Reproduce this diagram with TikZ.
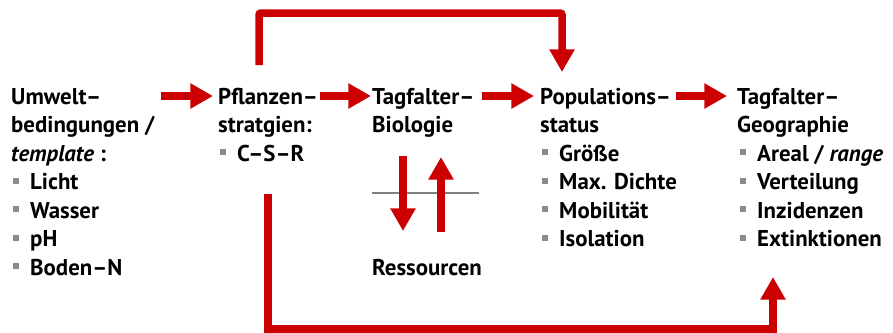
\documentclass[tikz,border=0pt]{standalone}
\usepackage{fontspec}
\setmainfont{PT Sans}
\usetikzlibrary{arrows.meta}

\definecolor{flowred}{HTML}{CC0000}
\definecolor{bulletgray}{HTML}{8C8C8C}
\definecolor{rulegray}{HTML}{808080}

% small grey square in front of list entries
\newcommand{\itm}{{\color{bulletgray}\rule[5pt]{5.1pt}{5.1pt}}\hspace{9.4pt}}

\tikzset{
  txt/.style={anchor=north west, inner sep=0pt, align=left,
    font=\fontsize{19.5}{24.3}\selectfont\bfseries},
  flow/.style={draw=flowred, line width=0.25cm,
    -{Triangle[length=0.68cm,width=0.72cm]}},
}

\begin{document}
\begin{tikzpicture}[x=0.03cm, y=-0.03cm]
\useasboundingbox (0,0) rectangle (893,332);

% heads
\node[txt] (umwelt) at (11,84) {\strut Umwelt--\\bedingungen /\\\textit{template} :};
\node[txt] (pflanzen) at (218,84) {\strut Pflanzen--\\stratgien:};
\node[txt] (biologie) at (372,84) {\strut Tagfalter--\\Biologie};
\node[txt] (popstatus) at (540,84) {\strut Populations--\\status};
\node[txt] (geographie) at (737,84) {\strut Tagfalter--\\Geographie};

% lists
\node[txt] (umweltlist) at (13,169.5) {\strut\itm Licht\\\itm Wasser\\\itm pH\\\itm Boden--N};
\node[txt] (csr) at (220,141) {\strut\itm C--S--R};
\node[txt] (poplist) at (542,141) {\strut\itm Größe\\\itm Max. Dichte\\\itm Mobilität\\\itm Isolation};
\node[txt] (geolist) at (740,141) {\strut\itm Areal / \textit{range}\\\itm Verteilung\\\itm Inzidenzen\\\itm Extinktionen};
\node[txt] (ressourcen) at (372,255) {\strut Ressourcen};

% main chain
\coordinate (row) at (0,96);
\draw[flow, shorten <=0.18cm, shorten >=0.15cm] (umwelt.east |- row) -- (pflanzen.west |- row);
\draw[flow, shorten <=0.06cm, shorten >=0.03cm] (pflanzen.east |- row) -- (biologie.west |- row);
\draw[flow, shorten <=0.21cm, shorten >=0.18cm] (biologie.east |- row) -- (popstatus.west |- row);
\draw[flow, shorten <=0.15cm, shorten >=0.30cm] (popstatus.east |- row) -- (geographie.west |- row);

% resources exchange
\draw[rulegray, line width=0.04cm] ([shift={(0,109)}]biologie.north west) -- ([shift={(107,109)}]biologie.north west);
\draw[flow] ([shift={(31,72)}]biologie.north west) -- ([shift={(31,147)}]biologie.north west);
\draw[flow] ([shift={(69,148)}]biologie.north west) -- ([shift={(69,73)}]biologie.north west);

% bypass links
\draw[flow, line width=0.225cm, rounded corners=0.06cm]
  ([shift={(41,-19)}]pflanzen.north west) |- ([shift={(22,-71)}]popstatus.north west)
  -- ([shift={(22,-12)}]popstatus.north west);
\draw[flow, line width=0.235cm]
  ([shift={(48,53)}]csr.north west) |- ([shift={(33,188)}]geolist.north west)
  -- ([shift={(33,136)}]geolist.north west);

\end{tikzpicture}
\end{document}
